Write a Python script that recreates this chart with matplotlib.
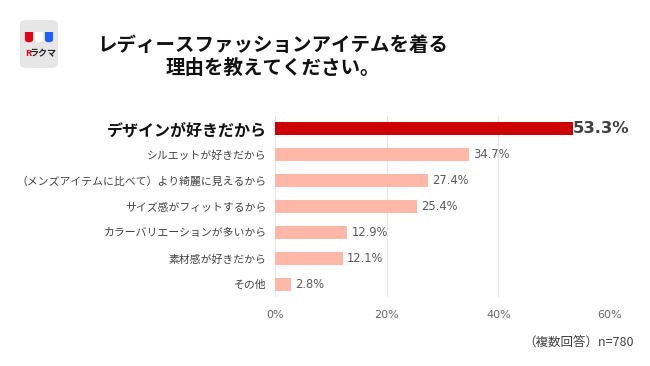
import matplotlib.pyplot as plt
from matplotlib.patches import FancyBboxPatch, Rectangle, Wedge
import numpy as np

plt.rcParams['font.family'] = ['Noto Sans CJK JP', 'DejaVu Sans']

# data
labels = [
    "デザインが好きだから",
    "シルエットが好きだから",
    "（メンズアイテムに比べて）より綺麗に見えるから",
    "サイズ感がフィットするから",
    "カラーバリエーションが多いから",
    "素材感が好きだから",
    "その他",
]
values = [53.3, 34.7, 27.4, 25.4, 12.9, 12.1, 2.8]
xticks = [0, 20, 40, 60]
title = "レディースファッションアイテムを着る\n理由を教えてください。"
note = "（複数回答）n=780"

W, H = 650, 366
fig = plt.figure(figsize=(W / 100, H / 100), dpi=100)
ax = fig.add_axes([275 / W, 1 - 297 / H, 335 / W, 181 / H])

y = np.arange(len(values))
colors = ['#cc0000'] + ['#ffb8a8'] * (len(values) - 1)
ax.barh(y, values, height=0.5, color=colors, zorder=2)

ax.set_xlim(0, 60)
ax.set_ylim(len(values) - 0.5, -0.5)
ax.set_xticks(xticks)
ax.set_xticklabels([f"{t}%" for t in xticks], color='#666666', fontsize=8,
                   family=['DejaVu Sans'])
ax.tick_params(axis='x', length=0, pad=9)
ax.grid(axis='x', color='#e6e6e6', linewidth=0.8, zorder=0)
for s in ax.spines.values():
    s.set_visible(False)

ax.set_yticks(y)
ax.set_yticklabels(labels, fontsize=7.8, color='#404040')
ax.tick_params(axis='y', length=0, pad=6)
top = ax.get_yticklabels()[0]
top.set_fontsize(11.5)
top.set_fontweight('bold')
top.set_color('#111111')

for i, v in enumerate(values):
    if i == 0:
        ax.text(v + 0.1, i, f"{v}%", va='center', ha='left', fontsize=11.8,
                fontweight='bold', color='#404040', family=['DejaVu Sans'])
    else:
        ax.text(v + 0.8, i, f"{v}%", va='center', ha='left', fontsize=8.3,
                color='#595959', family=['DejaVu Sans'])

fig.text(0.42, 1 - 57 / H, title, ha='center', va='center', fontsize=14,
         fontweight='bold', color='#111111', linespacing=1.3)
fig.text(634 / W, 1 - 342 / H, note, ha='right', va='center', fontsize=9,
         color='#404040')

# logo
def fx(px):
    return px / W

def fy(py):
    return 1 - py / H

fig.patches.append(FancyBboxPatch((fx(20), fy(68)), fx(38), 48 / H,
                                  boxstyle="round,pad=0,rounding_size=0.012",
                                  transform=fig.transFigure, facecolor='#e6e6e6',
                                  edgecolor='none'))
for x0, c in [(25, '#e60012'), (35, '#ffffff'), (45, '#1f5cff')]:
    fig.patches.append(Rectangle((fx(x0), fy(40)), fx(8), 8 / H,
                                 transform=fig.transFigure, facecolor=c, edgecolor='none'))
    fig.patches.append(Wedge((fx(x0 + 4), fy(40)), fx(4), 180, 360,
                             transform=fig.transFigure, facecolor=c, edgecolor='none'))
fig.text(fx(25), fy(54), "R", ha='left', va='center', fontsize=6.5, fontweight='bold',
         color='#e60012')
fig.text(fx(30), fy(54), "ラクマ", ha='left', va='center', fontsize=6.5,
         fontweight='bold', color='#222222')

fig.savefig("out.png", dpi=100)
